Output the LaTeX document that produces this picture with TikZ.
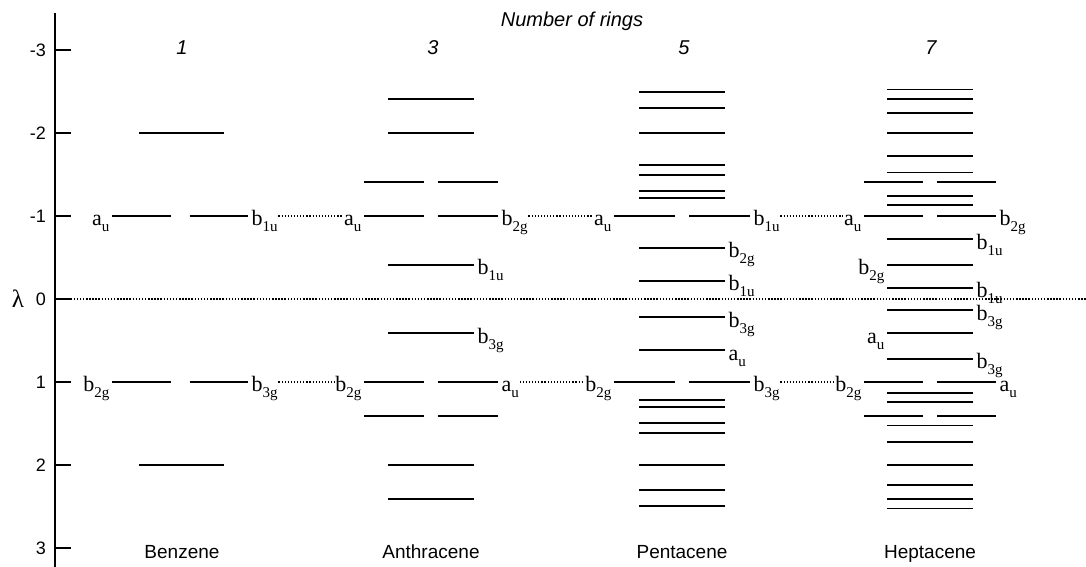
\documentclass[tikz,border=0pt]{standalone}
\usepackage{fontspec}
\setmainfont{Liberation Serif}
\setsansfont{Liberation Sans}

% symmetry label with lowered subscript
\newcommand\sym[2]{#1\raisebox{-6pt}{\fontsize{15}{15}\selectfont #2}}
% horizontal energy level from x1 to x2 at eigenvalue lambda
\newcommand\hl[3]{\draw[level] (#1,{268-83*(#3)}) -- (#2,{268-83*(#3)});}
% labels to the right / left of a level
\newcommand\Rlab[4]{\node[rlab] (#1) at (#2,{258-83*(#3)}) {#4};}
\newcommand\Llab[4]{\node[llab] (#1) at (#2,{258-83*(#3)}) {#4};}

\tikzset{
  level/.style={line width=1.9pt},
  axisline/.style={line width=1.5pt},
  zeroline/.style={line width=1.9pt, dash pattern=on 1.5pt off 1.6pt},
  conn/.style={line width=1.1pt, dash pattern=on 1.2pt off 1.9pt},
  lab/.style={font=\fontsize{22}{22}\selectfont, inner sep=0.5pt},
  rlab/.style={lab, anchor=base west},
  llab/.style={lab, anchor=base east},
  ticklab/.style={font=\sffamily\fontsize{18}{18}\selectfont, anchor=east, inner sep=0pt},
  head/.style={font=\sffamily\itshape\fontsize{20}{20}\selectfont, anchor=base, inner sep=0pt},
  molname/.style={font=\sffamily\fontsize{19}{19}\selectfont, anchor=base, inner sep=0pt}
}

\begin{document}
\begin{tikzpicture}[x=1pt,y=1pt]
\useasboundingbox (0,0) rectangle (1086,567);

% energy axis
\draw[axisline] (55,554) -- (55,0);
\foreach \t in {-3,...,3} {
  \draw[axisline] (55,{268-83*\t}) -- (71,{268-83*\t});
  \node[ticklab] (tick\t) at (46,{268-83*\t}) {\t};
}
\node[font=\fontsize{25}{25}\selectfont, inner sep=0pt] (lambda) at (18,268) {λ};
\draw[zeroline] (55,268) -- (1086,268);
\coordinate (lm) at (0,351);
\coordinate (lp) at (0,185);

% headings
\node[head] (title) at (572,540) {Number of rings};
\node[head] (n1) at (182,512) {1};
\node[head] (n3) at (433,512) {3};
\node[head] (n5) at (684,512) {5};
\node[head] (n7) at (931,512) {7};
\node[molname] (benzene) at (182,9) {Benzene};
\node[molname] (anthracene) at (431,9) {Anthracene};
\node[molname] (pentacene) at (682,9) {Pentacene};
\node[molname] (heptacene) at (930,9) {Heptacene};

% benzene
\foreach \l in {-2,2} {\hl{139}{224}{\l}}
\foreach \l in {-1,1} {\hl{112}{170.5}{\l}\hl{189.5}{248}{\l}}
\Llab{B-au}{110}{-1}{\sym{a}{u}}
\Rlab{B-b1u}{251}{-1}{\sym{b}{1u}}
\Llab{B-b2g}{110}{1}{\sym{b}{2g}}
\Rlab{B-b3g}{251}{1}{\sym{b}{3g}}

% anthracene
\foreach \l in {-2.414,-2,-0.414,0.414,2,2.414} {\hl{388}{474}{\l}}
\foreach \l in {-1.414,-1,1,1.414} {\hl{364}{424}{\l}\hl{438}{498}{\l}}
\Llab{A-au}{362}{-1}{\sym{a}{u}}
\Rlab{A-b2g}{501}{-1}{\sym{b}{2g}}
\Rlab{A-b1u}{477}{-0.414}{\sym{b}{1u}}
\Rlab{A-b3g}{477}{0.414}{\sym{b}{3g}}
\Llab{A-b2gl}{362}{1}{\sym{b}{2g}}
\Rlab{A-aur}{501}{1}{\sym{a}{u}}

% pentacene
\foreach \l in {2.496,2.303,2,1.618,1.496,1.303,1.220,0.618,0.220} {
  \hl{639}{725}{\l}\hl{639}{725}{-\l}}
\foreach \l in {-1,1} {\hl{614}{675}{\l}\hl{689}{750}{\l}}
\Llab{P-au}{612}{-1}{\sym{a}{u}}
\Rlab{P-b1u}{753}{-1}{\sym{b}{1u}}
\Rlab{P-b2g}{728}{-0.618}{\sym{b}{2g}}
\Rlab{P-b1ub}{728}{-0.220}{\sym{b}{1u}}
\Rlab{P-b3g}{728}{0.220}{\sym{b}{3g}}
\Rlab{P-aub}{728}{0.618}{\sym{a}{u}}
\Llab{P-b2gl}{612}{1}{\sym{b}{2g}}
\Rlab{P-b3gr}{753}{1}{\sym{b}{3g}}

% heptacene
\foreach \l in {2.524,2.414,2.236,2,1.718,1.524,1.236,1.134,0.718,0.414,0.134} {
  \hl{887}{973}{\l}\hl{887}{973}{-\l}}
\foreach \l in {-1.414,-1,1,1.414} {\hl{864}{923}{\l}\hl{937}{996}{\l}}
\Llab{H-au}{862}{-1}{\sym{a}{u}}
\Rlab{H-b2g}{999}{-1}{\sym{b}{2g}}
\Rlab{H-b1u}{976}{-0.718}{\sym{b}{1u}}
\Llab{H-b2gb}{885}{-0.414}{\sym{b}{2g}}
\Rlab{H-b1ub}{976}{-0.134}{\sym{b}{1u}}
\Rlab{H-b3g}{976}{0.134}{\sym{b}{3g}}
\Llab{H-aub}{885}{0.414}{\sym{a}{u}}
\Rlab{H-b3gb}{976}{0.718}{\sym{b}{3g}}
\Llab{H-b2gl}{862}{1}{\sym{b}{2g}}
\Rlab{H-aur}{999}{1}{\sym{a}{u}}

% correlation of the degenerate levels between neighbouring acenes
\draw[conn] (B-b1u.east |- lm) -- (A-au.west |- lm);
\draw[conn] (A-b2g.east |- lm) -- (P-au.west |- lm);
\draw[conn] (P-b1u.east |- lm) -- (H-au.west |- lm);
\draw[conn] (B-b3g.east |- lp) -- (A-b2gl.west |- lp);
\draw[conn] (A-aur.east |- lp) -- (P-b2gl.west |- lp);
\draw[conn] (P-b3gr.east |- lp) -- (H-b2gl.west |- lp);
\end{tikzpicture}
\end{document}
